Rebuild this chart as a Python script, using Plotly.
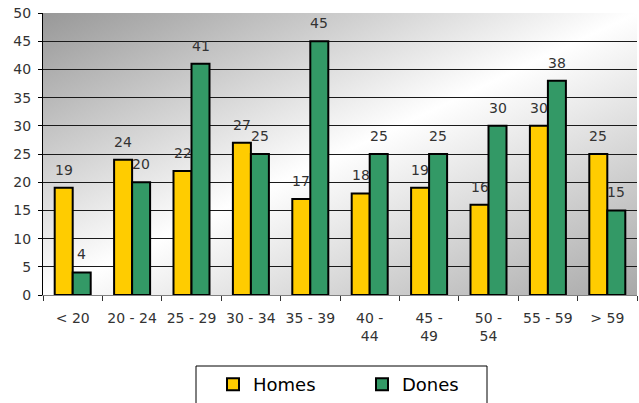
import plotly.graph_objects as go

categories = ["< 20", "20 - 24", "25 - 29", "30 - 34", "35 - 39",
              "40 -<br>44", "45 -<br>49", "50 -<br>54", "55 - 59", "> 59"]
homes = [19, 24, 22, 27, 17, 18, 19, 16, 30, 25]
dones = [4, 20, 41, 25, 45, 25, 25, 30, 38, 15]
y_ticks = [0, 5, 10, 15, 20, 25, 30, 35, 40, 45, 50]

FONT = "DejaVu Sans"
TXT = "#333333"

fig = go.Figure()
fig.add_trace(go.Bar(name="Homes", x=categories, y=homes,
                     marker=dict(color="#FFCC00", line=dict(color="black", width=2))))
fig.add_trace(go.Bar(name="Dones", x=categories, y=dones,
                     marker=dict(color="#339966", line=dict(color="black", width=2))))

annotations = []
for c, h, d in zip(categories, homes, dones):
    annotations.append(dict(x=c, y=h, text=str(h), showarrow=False, xshift=-9, yshift=18,
                            yanchor="middle", font=dict(family=FONT, size=14, color=TXT)))
    annotations.append(dict(x=c, y=d, text=str(d), showarrow=False, xshift=9, yshift=18,
                            yanchor="middle", font=dict(family=FONT, size=14, color=TXT)))

svg = ("data:image/svg+xml;utf8,<svg xmlns='http://www.w3.org/2000/svg' width='594' height='282' "
       "preserveAspectRatio='none'><defs><linearGradient id='g' x1='0' y1='0' x2='1' y2='1'>"
       "<stop offset='0' stop-color='%23989898'/><stop offset='0.5' stop-color='%23ffffff'/>"
       "<stop offset='1' stop-color='%23a8a8a8'/></linearGradient></defs>"
       "<rect width='594' height='282' fill='url(%23g)'/></svg>")

PW, PH = 594, 282
fig.update_layout(
    width=639, height=403,
    margin=dict(l=43, r=2, t=13, b=108, autoexpand=False),
    paper_bgcolor="white", plot_bgcolor="rgba(0,0,0,0)",
    barmode="group", bargap=0.394, bargroupgap=0,
    font=dict(family=FONT, size=14, color=TXT),
    annotations=annotations,
    images=[dict(source=svg, xref="paper", yref="paper", x=0, y=1, sizex=1, sizey=1,
                 sizing="stretch", layer="below", xanchor="left", yanchor="top")],
    shapes=[dict(type="rect", xref="paper", yref="paper", x0=(196 - 43) / PW, x1=(487 - 43) / PW,
                 y0=(295 - 366) / PH, y1=(295 - 420) / PH, line=dict(color="black", width=1),
                 fillcolor="white", layer="below")],
    showlegend=True,
    legend=dict(orientation="h", x=(196 - 43 + 17) / PW, xanchor="left", y=(295 - 366) / PH, yanchor="top",
                font=dict(family=FONT, size=18, color="black"), bgcolor="rgba(0,0,0,0)",
                itemwidth=30, entrywidth=104, entrywidthmode="pixels", borderwidth=0),
    xaxis=dict(showgrid=False, showline=True, linecolor="#808080", linewidth=1,
               ticks="outside", tickson="boundaries", ticklen=5, tickcolor="#333333",
               ticklabelstandoff=10,
               tickfont=dict(family=FONT, size=14, color=TXT), fixedrange=True),
    yaxis=dict(range=[0, 50], tickvals=y_ticks, showgrid=True, gridcolor="#1a1a1a", gridwidth=1,
               showline=True, linecolor="black", linewidth=1, ticks="outside", ticklen=4,
               tickcolor="black", ticklabelstandoff=4, zeroline=False,
               tickfont=dict(family=FONT, size=14, color=TXT), fixedrange=True),
)

fig.write_html("out.html", config={"displayModeBar": False},
               post_script="document.body.style.margin='0';")
